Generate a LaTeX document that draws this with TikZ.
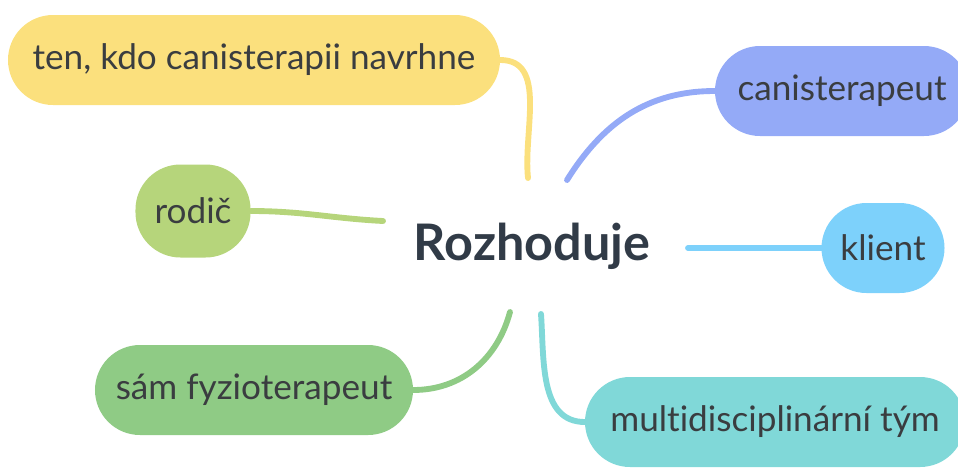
\documentclass[tikz,border=0pt]{standalone}
\usepackage{fontspec}
\setmainfont[Ligatures=NoCommon]{Lato}
\definecolor{cyellow}{HTML}{FBE07D}
\definecolor{cblue}{HTML}{94AAF7}
\definecolor{clime}{HTML}{B6D57B}
\definecolor{csky}{HTML}{7DD1FB}
\definecolor{cgreen}{HTML}{8FCB85}
\definecolor{cteal}{HTML}{80D8D8}
\definecolor{textgray}{HTML}{3A3D40}
\definecolor{rootgray}{HTML}{313B47}

\begin{document}
\begin{tikzpicture}[x=0.03cm,y=-0.03cm]
    \tikzstyle{topic}=[rectangle,rounded corners=1.35cm,minimum height=2.7cm,inner sep=0pt,text=textgray,font=\fontsize{30}{33}\selectfont]
    \tikzstyle{link}=[line width=5pt,line cap=round]
    \useasboundingbox (0,0) rectangle (958,467);
    \clip (0,0) rectangle (958,467);
    % the root and the points where the branches leave it
    \node (rozh)[text=rootgray,font=\fontsize{43}{47}\selectfont\bfseries] at (532,246) {Rozhoduje};
    \coordinate (ry) at (528,178);
    \coordinate (rb) at (567,180);
    \coordinate (rl) at (383,221);
    \coordinate (rk) at (688,248);
    \coordinate (rs) at (510,312);
    \coordinate (rm) at (541,314);
    % branches
    \node (navrh)[topic,fill=cyellow,minimum width=14.76cm] at (254,60) {ten, kdo canisterapii navrhne};
    \node (canis)[topic,fill=cblue,minimum width=7.62cm] at (842,91) {canisterapeut};
    \node (rodic)[topic,fill=clime,minimum width=3.45cm,minimum height=2.79cm] at (193,211) {rodič};
    \node (klient)[topic,fill=csky,minimum width=3.69cm] at (883,248) {klient};
    \node (fyzio)[topic,fill=cgreen,minimum width=9.54cm] at (254,390) {sám fyzioterapeut};
    \node (multi)[topic,fill=cteal,minimum width=11.4cm] at (775,422) {multidisciplinární tým};
    \draw[link,cyellow] (ry) to[out=96,in=0] (navrh.east);
    \draw[link,cblue] (rb) to[out=58,in=180] (canis.west);
    \draw[link,clime] (rl) to[out=177,in=0] (rodic.east);
    \draw[link,csky] (rk) -- (klient.west);
    \draw[link,cgreen] (rs) to[out=-105,in=0] (fyzio.east);
    \draw[link,cteal] (rm) to[out=-86,in=180] (multi.west);
\end{tikzpicture}
\end{document}
